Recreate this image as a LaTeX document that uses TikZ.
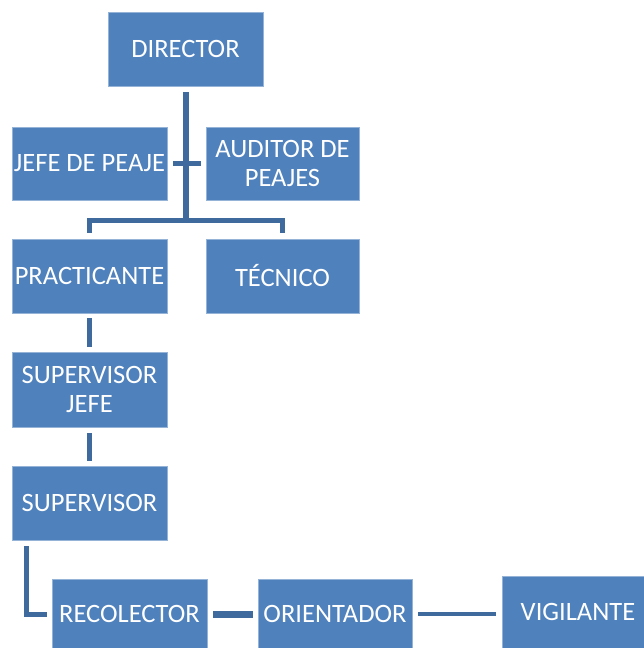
\documentclass[tikz,border=0pt]{standalone}
\usepackage{fontspec}
\setmainfont{Carlito}
\usepackage{xcolor}
\definecolor{boxblue}{HTML}{4F81BD}
\definecolor{lineblue}{HTML}{3E6A9E}

\begin{document}
\begin{tikzpicture}[x=1pt, y=-1pt,
  every node/.style={rectangle, fill=boxblue, draw=boxblue!60!white, line width=0.6pt, text=white, font=\fontsize{26.5}{29}\selectfont, align=center, inner sep=0pt},
  conn/.style={draw=lineblue, line width=5pt}]
\useasboundingbox (0,0) rectangle (644,648);

\node[minimum width=155pt, minimum height=74pt] (dir) at (185.5,49) {DIRECTOR};
\node[minimum width=155pt, minimum height=73pt] (jefe) at (89.5,163.5) {JEFE DE PEAJE};
\node[minimum width=153pt, minimum height=73pt] (aud) at (282.5,163.5) {AUDITOR DE\\PEAJES};
\node[minimum width=155pt, minimum height=74pt] (prac) at (89.5,276) {PRACTICANTE};
\node[minimum width=153pt, minimum height=74pt] (tec) at (282.5,276) {TÉCNICO};
\node[minimum width=155pt, minimum height=75pt] (supj) at (89.5,389.5) {SUPERVISOR\\JEFE};
\node[minimum width=155pt, minimum height=74pt] (sup) at (89.5,503) {SUPERVISOR};
\node[minimum width=155pt, minimum height=70pt] (rec) at (129.5,614) {RECOLECTOR};
\node[minimum width=154pt, minimum height=70pt] (ori) at (335,614) {ORIENTADOR};
\node[minimum width=152pt, minimum height=72pt] (vig) at (578,612) {VIGILANTE};
\coordinate (hub) at (185.5,220);

\draw[conn, line width=6pt, shorten <=6pt] (dir.south) -- (hub);
\draw[conn, shorten <=6pt, shorten >=5pt] (jefe.east) -- (aud.west);
\draw[conn, shorten <=6pt] (prac.north) |- (hub);
\draw[conn, shorten >=6pt] (hub) -| (tec.north);
\draw[conn, shorten <=5pt, shorten >=5pt] (prac.south) -- (supj.north);
\draw[conn, shorten <=6pt, shorten >=5pt] (supj.south) -- (sup.north);
\draw[conn, shorten <=6pt, shorten >=5pt] ([xshift=15pt]sup.south west) |- (rec.west);
\draw[conn, line width=7pt, shorten <=6pt, shorten >=5pt] (rec.east) -- (ori.west);
\draw[conn, line width=4.5pt, shorten <=6pt, shorten >=6pt] (ori.east) -- (ori.east -| vig.west);
\end{tikzpicture}
\end{document}
